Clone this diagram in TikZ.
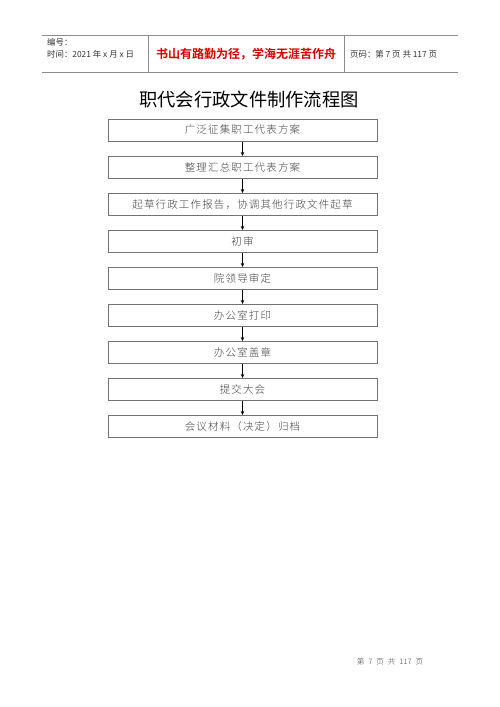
\documentclass[tikz,border=0pt]{standalone}
\usepackage{fontspec}
\newfontfamily\cjk{Noto Sans CJK SC}
\newfontfamily\cjkbox[LetterSpace=11]{Noto Sans CJK SC Light}
\newfontfamily\cjklight{Noto Sans CJK SC Light}
\newfontfamily\cjkbold{Noto Sans CJK SC Bold}
\usetikzlibrary{arrows.meta}
\begin{document}
\begin{tikzpicture}[x=1pt,y=-1pt,
  stepbox/.style={draw=black!55,line width=1pt,minimum width=269pt,minimum height=22pt,inner sep=0pt,font=\cjkbox\fontsize{10.5}{12}\selectfont,text=black!75},
  flow/.style={draw=black,line width=0.6pt,-{Stealth[length=4pt,width=3.5pt]}},
  hline/.style={draw=black!45,line width=0.8pt},
  hdr/.style={font=\cjk\fontsize{8.4}{9}\selectfont,text=black!80,inner sep=0pt,anchor=west}]
\useasboundingbox (0,0) rectangle (500,707);
% header
\coordinate (hTL) at (42,35);
\coordinate (hTR) at (458,35);
\coordinate (hBL) at (42,72);
\coordinate (hBR) at (458,72);
\coordinate (d1t) at (148,35);
\coordinate (d1b) at (148,72);
\coordinate (d2t) at (344,35);
\coordinate (d2b) at (344,72);
\draw[hline] (hTL) -- (hTR);
\draw[hline] (hBL) -- (hBR);
\draw[hline] (d1t) -- (d1b);
\draw[hline] (d2t) -- (d2b);
\node[hdr] (bh) at (47,42) {编号：};
\node[hdr] (sj) at (47,54) {时间：2021 年 x 月 x 日};
\node[font=\cjkbold\fontsize{12}{14}\selectfont,text=red!85!black,inner sep=0pt] (motto) at (246,54) {书山有路勤为径，学海无涯苦作舟};
\node[hdr] (ym) at (350,54) {页码：第 7 页 共 117 页};
% title
\node[font=\cjk\fontsize{18.3}{21}\selectfont,inner sep=0pt] (title) at (249,100) {职代会行政文件制作流程图};
% boxes
\node[stepbox] (b1) at (242.5,130) {广泛征集职工代表方案};
\node[stepbox] (b2) at (242.5,167.5) {整理汇总职工代表方案};
\node[stepbox] (b3) at (242.5,204.5) {起草行政工作报告，协调其他行政文件起草};
\node[stepbox] (b4) at (242.5,241.5) {初审};
\node[stepbox] (b5) at (242.5,278.5) {院领导审定};
\node[stepbox] (b6) at (242.5,315.5) {办公室打印};
\node[stepbox] (b7) at (242.5,352.5) {办公室盖章};
\node[stepbox] (b8) at (242.5,389.5) {提交大会};
\node[stepbox] (b9) at (242.5,426.5) {会议材料（决定）归档};
\foreach \a/\b in {b1/b2,b2/b3,b3/b4,b4/b5,b5/b6,b6/b7,b7/b8,b8/b9}
  \draw[flow] (\a.south) -- (\b.north);
% footer
\node[font=\cjklight\fontsize{7.5}{9}\selectfont,text=black!75,inner sep=0pt] (foot) at (390,662) {第\hspace{4pt}7\hspace{4pt}页\hspace{4pt}共\hspace{4pt}117\hspace{4pt}页};
\end{tikzpicture}
\end{document}
